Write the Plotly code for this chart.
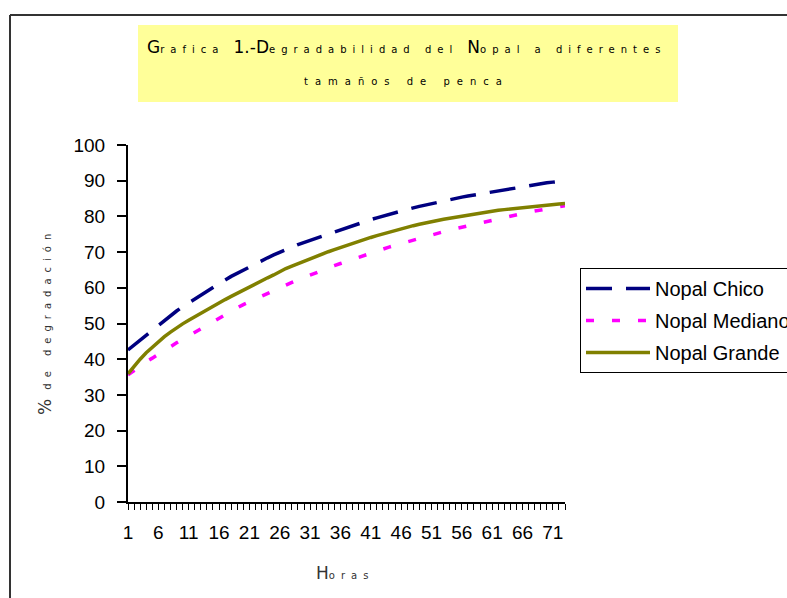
import plotly.graph_objects as go

# ---------------- data ----------------
horas = list(range(1, 74))

nopal_chico = [42.6, 44.0, 45.4, 46.8, 48.2, 49.6, 51.0, 52.3, 53.5, 54.7,
               55.8, 56.9, 58.0, 59.1, 60.2, 61.2, 62.2, 63.2, 64.1, 65.0,
               65.9, 66.8, 67.6, 68.4, 69.2, 70.0, 70.7, 71.4, 72.1, 72.7,
               73.3, 73.9, 74.5, 75.1, 75.7, 76.3, 76.9, 77.5, 78.0, 78.6,
               79.1, 79.6, 80.1, 80.6, 81.1, 81.5, 82.0, 82.4, 82.8, 83.2,
               83.6, 84.0, 84.3, 84.7, 85.0, 85.4, 85.7, 86.0, 86.3, 86.6,
               86.9, 87.2, 87.5, 87.8, 88.1, 88.4, 88.7, 88.9, 89.2, 89.4,
               89.6, 89.8, 90.0]

nopal_mediano = [35.6, 36.9, 38.1, 39.3, 40.3, 41.3, 42.4, 43.5, 44.6, 45.6,
                 46.6, 47.6, 48.6, 49.6, 50.6, 51.6, 52.6, 53.5, 54.4, 55.3,
                 56.1, 56.9, 57.7, 58.5, 59.3, 60.1, 60.8, 61.5, 62.2, 62.9,
                 63.6, 64.3, 65.0, 65.6, 66.2, 66.8, 67.4, 68.0, 68.6, 69.2,
                 69.8, 70.4, 70.9, 71.4, 71.9, 72.4, 72.9, 73.4, 73.9, 74.4,
                 74.9, 75.4, 75.8, 76.2, 76.6, 77.0, 77.4, 77.8, 78.2, 78.6,
                 79.0, 79.4, 79.8, 80.2, 80.6, 80.9, 81.2, 81.5, 81.8, 82.1,
                 82.4, 82.7, 83.0]

nopal_grande = [35.9, 38.0, 40.0, 41.8, 43.4, 44.9, 46.3, 47.6, 48.8, 49.9,
                50.9, 51.9, 52.9, 53.9, 54.9, 55.8, 56.7, 57.6, 58.5, 59.4,
                60.2, 61.1, 62.0, 62.8, 63.6, 64.6, 65.4, 66.1, 66.8, 67.5,
                68.2, 68.8, 69.5, 70.1, 70.7, 71.3, 71.9, 72.5, 73.1, 73.6,
                74.1, 74.6, 75.1, 75.6, 76.1, 76.5, 77.0, 77.4, 77.8, 78.2,
                78.5, 78.9, 79.2, 79.5, 79.8, 80.1, 80.4, 80.7, 81.0, 81.3,
                81.5, 81.7, 81.9, 82.1, 82.3, 82.5, 82.7, 82.9, 83.0, 83.2,
                83.3, 83.5, 83.6]

tick_vals = list(range(1, 72, 5))
tick_text = [str(v) for v in tick_vals]
y_ticks = list(range(0, 101, 10))

# ---------------- layout geometry ----------------
W, H = 787, 598
L, R, T, B = 128, 222, 145, 96
PW, PH = W - L - R, H - T - B


def px(xp):
    return (xp - L) / PW


def py(yp):
    return (H - B - yp) / PH


fig = go.Figure()
fig.add_trace(go.Scatter(x=horas, y=nopal_chico, mode="lines", name="Nopal Chico",
                         legendgroup="a",
                         line=dict(color="#000080", width=3.5, dash="26px,14px")))
fig.add_trace(go.Scatter(x=horas, y=nopal_mediano, mode="lines", name="Nopal Mediano",
                         legendgroup="b",
                         line=dict(color="#FF00FF", width=3.5, dash="8px,18px")))
fig.add_trace(go.Scatter(x=horas, y=nopal_grande, mode="lines", name="Nopal Grande",
                         legendgroup="c",
                         line=dict(color="#808000", width=3.5)))

small = "font-size:10px;letter-spacing:6px"
small2 = "font-size:10px;letter-spacing:7px"
title1 = (f"G<span style='{small}'>rafica </span>1.-D<span style='{small}'>egradabilidad del </span>"
          f"N<span style='{small}'>opal a diferentes</span>")
title2 = f"<span style='{small2}'>tamaños de penca</span>"
ytitle = f"%<span style='{small}'> de degradación</span>"
xtitle = f"H<span style='{small}'>oras</span>"

gfont = dict(family="DejaVu Sans", size=17, color="#000")

fig.update_layout(
    width=W, height=H,
    margin=dict(l=L, r=R, t=T, b=B),
    paper_bgcolor="white", plot_bgcolor="white",
    showlegend=True,
    legend=dict(
        xref="container", yref="container",
        x=580 / W, y=1 - 268 / H, xanchor="left", yanchor="top",
        bordercolor="#000", borderwidth=1, bgcolor="white",
        font=dict(family="Liberation Sans", size=20, color="#000"),
        itemwidth=64, tracegroupgap=3, traceorder="grouped",
    ),
    xaxis=dict(
        range=[1, 73], showgrid=False, zeroline=False,
        showline=True, linecolor="#000", linewidth=2,
        tickmode="array", tickvals=tick_vals, ticktext=tick_text,
        ticks="outside", ticklen=6, tickcolor="#000", tickwidth=1,
        ticklabelstandoff=6,
        minor=dict(dtick=1, tick0=1, ticks="outside", ticklen=6, tickcolor="#000", tickwidth=1),
        tickfont=dict(family="Liberation Sans", size=19, color="#000"),
    ),
    yaxis=dict(
        range=[0, 100], showgrid=False, zeroline=False,
        showline=True, linecolor="#000", linewidth=2,
        tickvals=y_ticks,
        ticks="outside", ticklen=9, tickcolor="#000", tickwidth=1.5,
        ticklabelstandoff=8,
        tickfont=dict(family="Liberation Sans", size=19, color="#000"),
    ),
    shapes=[
        dict(type="rect", xref="paper", yref="paper",
             x0=px(138), x1=px(678), y0=py(102), y1=py(25),
             fillcolor="#FFFF99", line=dict(width=0), layer="below"),
        dict(type="line", xref="paper", yref="paper",
             x0=px(10), x1=px(800), y0=py(15), y1=py(15),
             line=dict(color="#333", width=2)),
        dict(type="line", xref="paper", yref="paper",
             x0=px(10), x1=px(10), y0=py(15), y1=py(620),
             line=dict(color="#333", width=2)),
    ],
    annotations=[
        dict(text=title1, xref="paper", yref="paper", x=px(406), y=py(47),
             showarrow=False, xanchor="center", yanchor="middle", font=gfont),
        dict(text=title2, xref="paper", yref="paper", x=px(406), y=py(82),
             showarrow=False, xanchor="center", yanchor="middle", font=gfont),
        dict(text=ytitle, xref="paper", yref="paper", x=px(45), y=py(322),
             showarrow=False, xanchor="center", yanchor="middle", textangle=-90,
             font=dict(family="DejaVu Sans", size=17, color="#333")),
        dict(text=xtitle, xref="paper", yref="paper", x=px(345), y=py(573),
             showarrow=False, xanchor="center", yanchor="middle",
             font=dict(family="DejaVu Sans", size=17, color="#333")),
    ],
)

fig.write_html("out.html")
